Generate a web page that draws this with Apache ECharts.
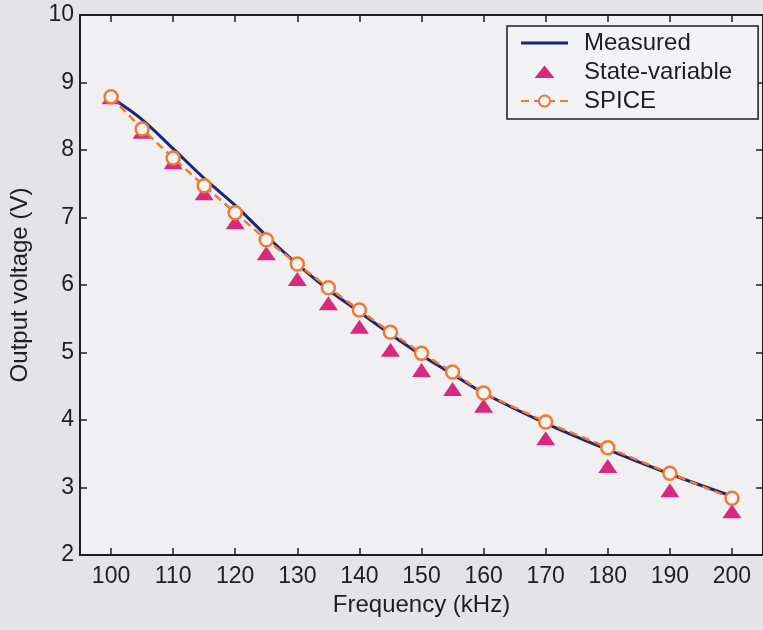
<!DOCTYPE html>
<html>
<head>
<meta charset="utf-8">
<script src="https://cdn.jsdelivr.net/npm/echarts@6/dist/echarts.min.js"></script>
<style>
  html, body { margin: 0; padding: 0; background: #e4e4e8; }
  #chart { width: 763px; height: 630px; }
</style>
</head>
<body>
<div id="chart"></div>
<script>
// Output voltage versus switching frequency
const freq = [100, 105, 110, 115, 120, 125, 130, 135, 140, 145, 150, 155, 160, 170, 180, 190, 200];
const measured = [8.78, 8.45, 8.02, 7.58, 7.18, 6.73, 6.31, 5.93, 5.60, 5.27, 4.96, 4.68, 4.40, 3.95, 3.56, 3.20, 2.87];
const stateVariable = [8.78, 8.27, 7.82, 7.36, 6.93, 6.47, 6.09, 5.73, 5.38, 5.04, 4.74, 4.46, 4.21, 3.73, 3.32, 2.96, 2.65];
const spice = [8.79, 8.31, 7.88, 7.47, 7.07, 6.67, 6.31, 5.96, 5.63, 5.30, 4.99, 4.71, 4.40, 3.97, 3.59, 3.21, 2.84];
const xTicks = [100, 110, 120, 130, 140, 150, 160, 170, 180, 190, 200];

const pairs = ys => freq.map((f, i) => [f, ys[i]]);

const FONT = 'Liberation Sans';
const INK = '#1e1e22';
const NAVY = '#1b2676';
const axisLine = { show: true, onZero: false, lineStyle: { color: INK, width: 2 } };
const tickIn = { show: true, inside: true, length: 7, lineStyle: { color: INK, width: 1.5 } };

// legend glyphs: a plain bar for the measured trace, a small triangle for the model points
// (the leading moves pin the glyph box to the full item size so the shape keeps its proportions)
const ICON_BAR = 'path://M0,5.8 L47,5.8 L47,8.6 L0,8.6 Z';
const ICON_TRI = 'path://M0,0 M47,14 M13.5,13 L23.5,0.5 L33.5,13 Z';

const chart = echarts.init(document.getElementById('chart'));
chart.setOption({
  backgroundColor: '#e4e4e8',
  animation: false,
  grid: {
    left: 77, right: 0, top: 15, bottom: 75,
    show: true, backgroundColor: '#f0f0f3', borderWidth: 0
  },
  legend: {
    left: 507, top: 26,
    orient: 'vertical',
    itemWidth: 47, itemHeight: 14, itemGap: 5,
    padding: [5, 26, 6, 13],
    borderColor: INK, borderWidth: 1.5,
    backgroundColor: '#f3f3f5',
    textStyle: { fontFamily: FONT, fontSize: 24, color: INK, padding: [0, 0, 0, 11] },
    data: [
      { name: 'Measured', icon: ICON_BAR },
      { name: 'State-variable', icon: ICON_TRI },
      { name: 'SPICE' }
    ]
  },
  xAxis: [{
    type: 'value', min: 95, max: 205, position: 'bottom',
    name: 'Frequency (kHz)', nameLocation: 'middle', nameGap: 34,
    nameTextStyle: { fontFamily: FONT, fontSize: 24, color: INK },
    axisLine: axisLine,
    axisTick: Object.assign({ customValues: xTicks }, tickIn),
    axisLabel: { customValues: xTicks, fontFamily: FONT, fontSize: 23, color: INK, margin: 10 },
    splitLine: { show: false }
  }, {
    type: 'value', min: 95, max: 205, position: 'top',
    axisLine: axisLine,
    axisTick: Object.assign({ customValues: xTicks }, tickIn),
    axisLabel: { show: false, customValues: xTicks },
    splitLine: { show: false }
  }],
  yAxis: [{
    type: 'value', min: 2, max: 10, interval: 1, position: 'left',
    name: 'Output voltage (V)', nameLocation: 'middle', nameGap: 48,
    nameTextStyle: { fontFamily: FONT, fontSize: 24, color: INK },
    axisLine: axisLine,
    axisTick: tickIn,
    axisLabel: { fontFamily: FONT, fontSize: 23, color: INK, margin: 6 },
    splitLine: { show: false }
  }, {
    type: 'value', min: 2, max: 10, interval: 1, position: 'right',
    axisLine: axisLine,
    axisTick: tickIn,
    axisLabel: { show: false },
    splitLine: { show: false }
  }],
  series: [{
    name: 'Measured', type: 'line',
    data: pairs(measured),
    smooth: 0.3, symbol: 'none', z: 2,
    lineStyle: { color: NAVY, width: 3 },
    itemStyle: { color: NAVY }
  }, {
    name: 'State-variable', type: 'scatter',
    data: pairs(stateVariable),
    symbol: 'triangle', symbolSize: [19, 14], z: 3,
    itemStyle: { color: '#d8297f', opacity: 1 }
  }, {
    name: 'SPICE', type: 'line',
    data: pairs(spice),
    symbol: 'circle', symbolSize: 13, showSymbol: true, z: 4,
    lineStyle: { color: '#f07a32', width: 2.5, type: [8, 5] },
    itemStyle: { color: '#f5f5f7', borderColor: '#f07a32', borderWidth: 2.5 }
  }]
});
</script>
</body>
</html>
